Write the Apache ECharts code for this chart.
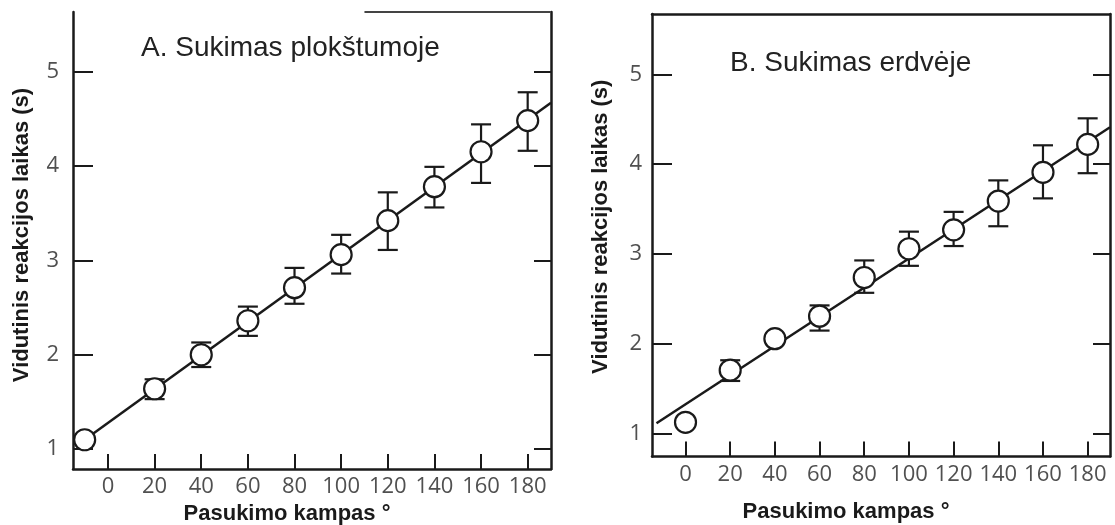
<!DOCTYPE html>
<html>
<head>
<meta charset="utf-8">
<script src="https://cdn.jsdelivr.net/npm/echarts@6/dist/echarts.min.js"></script>
<style>
  html, body { margin: 0; padding: 0; background: #fff; }
  #chart-container { width: 1115px; height: 525px; }
</style>
</head>
<body>
<div id="chart-container"></div>
<script>
// tick labels
var xTicks = [0, 20, 40, 60, 80, 100, 120, 140, 160, 180];
var yTicks = [1, 2, 3, 4, 5];

// A. Sukimas plokštumoje
var anglesA = [-10, 20, 40, 60, 80, 100, 120, 140, 160, 180];
var meanA = [1.10, 1.64, 2.00, 2.36, 2.71, 3.06, 3.42, 3.78, 4.15, 4.48];
var lowA = [null, 1.53, 1.87, 2.20, 2.54, 2.86, 3.11, 3.56, 3.82, 4.16];
var highA = [null, 1.74, 2.13, 2.51, 2.92, 3.27, 3.72, 3.99, 4.44, 4.78];
var fitAx = [-10, 190];
var fitAy = [1.10, 4.67];

// B. Sukimas erdvėje
var anglesB = [0, 20, 40, 60, 80, 100, 120, 140, 160, 180];
var meanB = [1.13, 1.71, 2.06, 2.31, 2.74, 3.06, 3.27, 3.59, 3.91, 4.22];
var lowB = [null, 1.59, null, 2.15, 2.57, 2.87, 3.09, 3.31, 3.62, 3.90];
var highB = [null, 1.82, null, 2.43, 2.93, 3.25, 3.47, 3.82, 4.21, 4.51];
var fitBx = [-13, 190];
var fitBy = [1.12, 4.41];

var titleA = "A. Sukimas plokštumoje";
var titleB = "B. Sukimas erdvėje";
var yName = "Vidutinis reakcijos laikas (s)";
var xName = "Pasukimo kampas °";

var ink = "#1a1a1a";
var tickFont = { fontFamily: "Open Sans", fontSize: 22, color: "#505050" };

function pairs(xs, ys) {
  return xs.map(function (x, i) { return [x, ys[i]]; });
}
function errData(xs, lo, hi) {
  var out = [];
  xs.forEach(function (x, i) {
    if (lo[i] != null) out.push([x, lo[i], hi[i]]);
  });
  return out;
}

function errorBars(idx, data) {
  return {
    type: "custom",
    xAxisIndex: idx, yAxisIndex: idx * 2,
    data: data,
    z: 3,
    renderItem: function (params, api) {
      var x = api.value(0);
      var lo = api.coord([x, api.value(1)]);
      var hi = api.coord([x, api.value(2)]);
      var w = 10;
      var st = { stroke: ink, lineWidth: 2.2 };
      return {
        type: "group",
        children: [
          { type: "line", shape: { x1: lo[0], y1: lo[1], x2: hi[0], y2: hi[1] }, style: st },
          { type: "line", shape: { x1: lo[0] - w, y1: lo[1], x2: lo[0] + w, y2: lo[1] }, style: st },
          { type: "line", shape: { x1: hi[0] - w, y1: hi[1], x2: hi[0] + w, y2: hi[1] }, style: st }
        ]
      };
    }
  };
}

function xAxisFor(idx, gap, pad) {
  return {
    type: "value", gridIndex: idx, min: -15, max: 190,
    name: xName, nameLocation: "middle", nameGap: gap,
    nameTextStyle: { fontFamily: "Liberation Sans", fontWeight: "bold", fontSize: 22, color: ink, padding: pad },
    axisLine: { show: true, onZero: false, lineStyle: { color: ink, width: 2.5 } },
    axisTick: { show: true, inside: true, length: 15, customValues: xTicks, lineStyle: { color: ink, width: 2 } },
    axisLabel: Object.assign({ show: true, margin: 7, customValues: xTicks }, tickFont),
    splitLine: { show: false }
  };
}
function topAxisFor(idx, show) {
  return {
    type: "value", gridIndex: idx, position: "top", min: -15, max: 190,
    axisLine: { show: show, onZero: false, lineStyle: { color: ink, width: 2.5 } },
    axisTick: { show: false }, axisLabel: { show: false }, splitLine: { show: false }
  };
}
function yAxisFor(idx, min, max, gap, pad, margin) {
  return {
    type: "value", gridIndex: idx, min: min, max: max,
    name: yName, nameLocation: "middle", nameGap: gap, nameRotate: 90,
    nameTextStyle: { fontFamily: "Liberation Sans", fontWeight: "bold", fontSize: 22, color: ink, padding: pad },
    axisLine: { show: true, onZero: false, lineStyle: { color: ink, width: 2.5 } },
    axisTick: { show: true, inside: true, length: 20, customValues: yTicks, lineStyle: { color: ink, width: 2 } },
    axisLabel: Object.assign({ show: true, margin: margin, customValues: yTicks }, tickFont),
    splitLine: { show: false }
  };
}
function rightAxisFor(idx, min, max) {
  return {
    type: "value", gridIndex: idx, position: "right", min: min, max: max,
    axisLine: { show: true, onZero: false, lineStyle: { color: ink, width: 2.5 } },
    axisTick: { show: true, inside: true, length: 17, customValues: yTicks, lineStyle: { color: ink, width: 2 } },
    axisLabel: { show: false }, splitLine: { show: false }
  };
}

var dom = document.getElementById("chart-container");
var myChart = echarts.init(dom, null, { renderer: "canvas" });

var option = {
  animation: false,
  backgroundColor: "#fff",
  title: [
    { text: titleA, left: 141, top: 34, padding: 0,
      textStyle: { fontFamily: "Liberation Sans", fontWeight: "normal", fontSize: 28, color: "#222" } },
    { text: titleB, left: 730, top: 49, padding: 0,
      textStyle: { fontFamily: "Liberation Sans", fontWeight: "normal", fontSize: 28, color: "#222" } }
  ],
  grid: [
    { left: 73, right: 564, top: 12, bottom: 56, outerBoundsMode: "none" },
    { left: 652, right: 5, top: 14, bottom: 68.5, outerBoundsMode: "none" }
  ],
  xAxis: [
    xAxisFor(0, 31, [0, 50, 0, 0]),
    xAxisFor(1, 44, [0, 70, 0, 0]),
    topAxisFor(0, false),
    topAxisFor(1, true)
  ],
  yAxis: [
    yAxisFor(0, 0.79, 5.63, 40, [0, 0, 0, 11], 14),
    rightAxisFor(0, 0.79, 5.63),
    yAxisFor(1, 0.75, 5.67, 40, [0, 0, 0, 17], 10),
    rightAxisFor(1, 0.75, 5.67)
  ],
  series: [
    // partial top border on panel A (the scan lost its left part)
    { type: "line", xAxisIndex: 0, yAxisIndex: 0, data: [[110, 5.63], [190, 5.63]],
      symbol: "none", lineStyle: { color: "#444", width: 2 }, silent: true, z: 1 },
    { type: "line", xAxisIndex: 0, yAxisIndex: 0, data: pairs(fitAx, fitAy),
      symbol: "none", lineStyle: { color: ink, width: 2.5 }, z: 2 },
    errorBars(0, errData(anglesA, lowA, highA)),
    { type: "scatter", xAxisIndex: 0, yAxisIndex: 0, data: pairs(anglesA, meanA),
      symbol: "circle", symbolSize: 21, z: 5,
      itemStyle: { color: "#fff", borderColor: ink, borderWidth: 2.2, opacity: 1 } },

    { type: "line", xAxisIndex: 1, yAxisIndex: 2, data: pairs(fitBx, fitBy),
      symbol: "none", lineStyle: { color: ink, width: 2.5 }, z: 2 },
    errorBars(1, errData(anglesB, lowB, highB)),
    { type: "scatter", xAxisIndex: 1, yAxisIndex: 2, data: pairs(anglesB, meanB),
      symbol: "circle", symbolSize: 21, z: 5,
      itemStyle: { color: "#fff", borderColor: ink, borderWidth: 2.2, opacity: 1 } }
  ]
};

myChart.setOption(option);
window.addEventListener("resize", myChart.resize);
</script>
</body>
</html>
